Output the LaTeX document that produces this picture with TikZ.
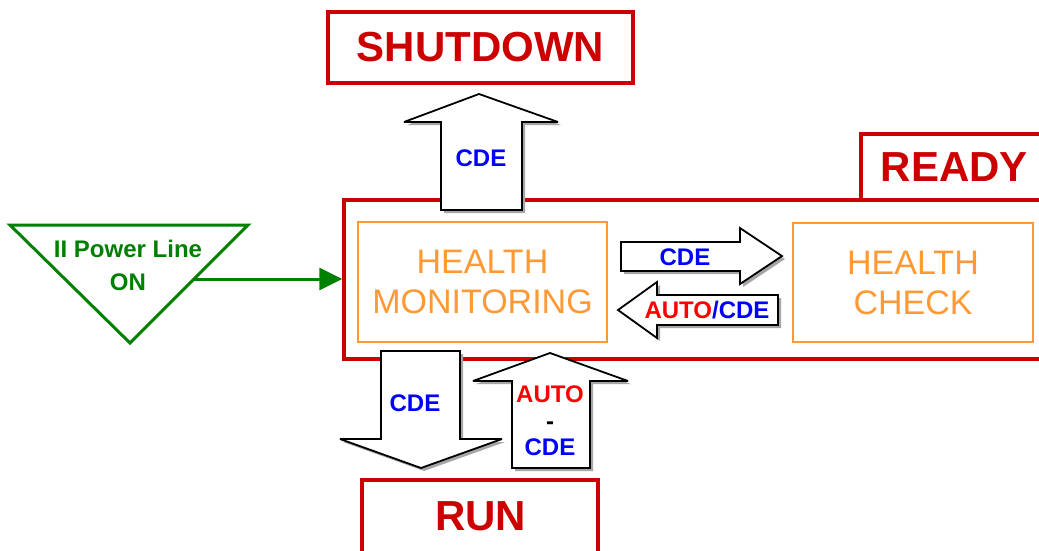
\documentclass[tikz,border=0pt]{standalone}
\usepackage{fontspec}
\setmainfont{Liberation Sans}
\usetikzlibrary{arrows.meta}
\definecolor{boxred}{HTML}{CC0000}
\definecolor{hmorange}{HTML}{FF9933}
\definecolor{pgreen}{HTML}{008000}
\definecolor{cdeblue}{HTML}{0000FF}
\definecolor{autored}{HTML}{FF0000}
\newcommand\blockarr[1]{\fill[arrowshadow, shift={(3,3)}] #1; \draw[blockarrow] #1;}
\begin{document}
\begin{tikzpicture}[x=1pt,y=-1pt,
 redbox/.style={draw=boxred, line width=3.5pt, inner sep=0pt},
 orbox/.style={draw=hmorange, line width=1.8pt, inner sep=0pt, text=hmorange, font=\fontsize{34}{40}\selectfont, align=center},
 title/.style={text=boxred, inner sep=0pt, font=\fontsize{42}{42}\selectfont\bfseries},
 lbl/.style={font=\fontsize{24}{26.5}\selectfont\bfseries, inner sep=0pt, align=center},
 blockarrow/.style={draw=black, line width=1.8pt, fill=white, miter limit=3},
 arrowshadow/.style={fill=black!35, draw=none},
 greenline/.style={draw=pgreen, line width=3pt}]
\useasboundingbox (0,0) rectangle (1039,550);
\clip (0,0) rectangle (1039,550);
\fill[white] (0,0) rectangle (1039,550);

% boxes
\node[redbox, minimum width=305pt, minimum height=71pt, title] (shutdown) at (480.5,47.5) {SHUTDOWN};
\node[redbox, minimum width=716pt, minimum height=159pt] (readybox) at (702,279.5) {};
\node[redbox, minimum width=199pt, minimum height=66pt] (readytab) at (960.5,167) {};
\node[title] (readylbl) at (954.5,167) {READY};
\node[redbox, minimum width=236pt, minimum height=80pt, anchor=north] (run) at (480,478) {};
\node[title] (runlbl) at (480.5,516) {RUN};

\node[orbox, minimum width=249pt, minimum height=120pt] (hm) at (482.5,282) {HEALTH\\MONITORING};
\node[orbox, minimum width=240pt, minimum height=119pt] (hc) at (913,282.5) {HEALTH\\CHECK};

% power line triangle
\draw[greenline, line join=miter] (10,225) -- (248,225) -- (130,343) -- cycle;
\node[font=\fontsize{24}{33}\selectfont\bfseries, text=pgreen, align=center, inner sep=0pt] (pwr) at (128,265) {II Power Line\\ON};
\coordinate (pwrout) at (194,279);
\draw[greenline, -{Triangle[length=23pt,width=22pt]}] (pwrout) -- (pwrout -| readybox.west);

% block arrows
\blockarr{(441,210) -- (441,122) -- (404,122) -- (479,94) -- (558,122) -- (522,122) -- (522,210) -- cycle}
\node[lbl, text=cdeblue] (l1) at (481,158) {CDE};

\blockarr{(621,242) -- (740,242) -- (740,228) -- (782,256) -- (740,284) -- (740,271) -- (621,271) -- cycle}
\node[lbl, text=cdeblue] (l2) at (685,257) {CDE};

\blockarr{(778,295) -- (657,295) -- (657,282) -- (618,310) -- (657,338) -- (657,325) -- (778,325) -- cycle}
\node[lbl] (l3) at (707,310) {\textcolor{autored}{AUTO}\textcolor{cdeblue}{/CDE}};

\blockarr{(381,351) -- (460,351) -- (460,439) -- (502,439) -- (421,468) -- (340,439) -- (381,439) -- cycle}
\node[lbl, text=cdeblue] (l4) at (415,403) {CDE};

\blockarr{(512,468) -- (512,381) -- (473,381) -- (550,353) -- (628,381) -- (590,381) -- (590,468) -- cycle}
\node[lbl] (l5) at (550,421) {\textcolor{autored}{AUTO}\\\textcolor{black}{-}\\\textcolor{cdeblue}{CDE}};
\end{tikzpicture}
\end{document}
